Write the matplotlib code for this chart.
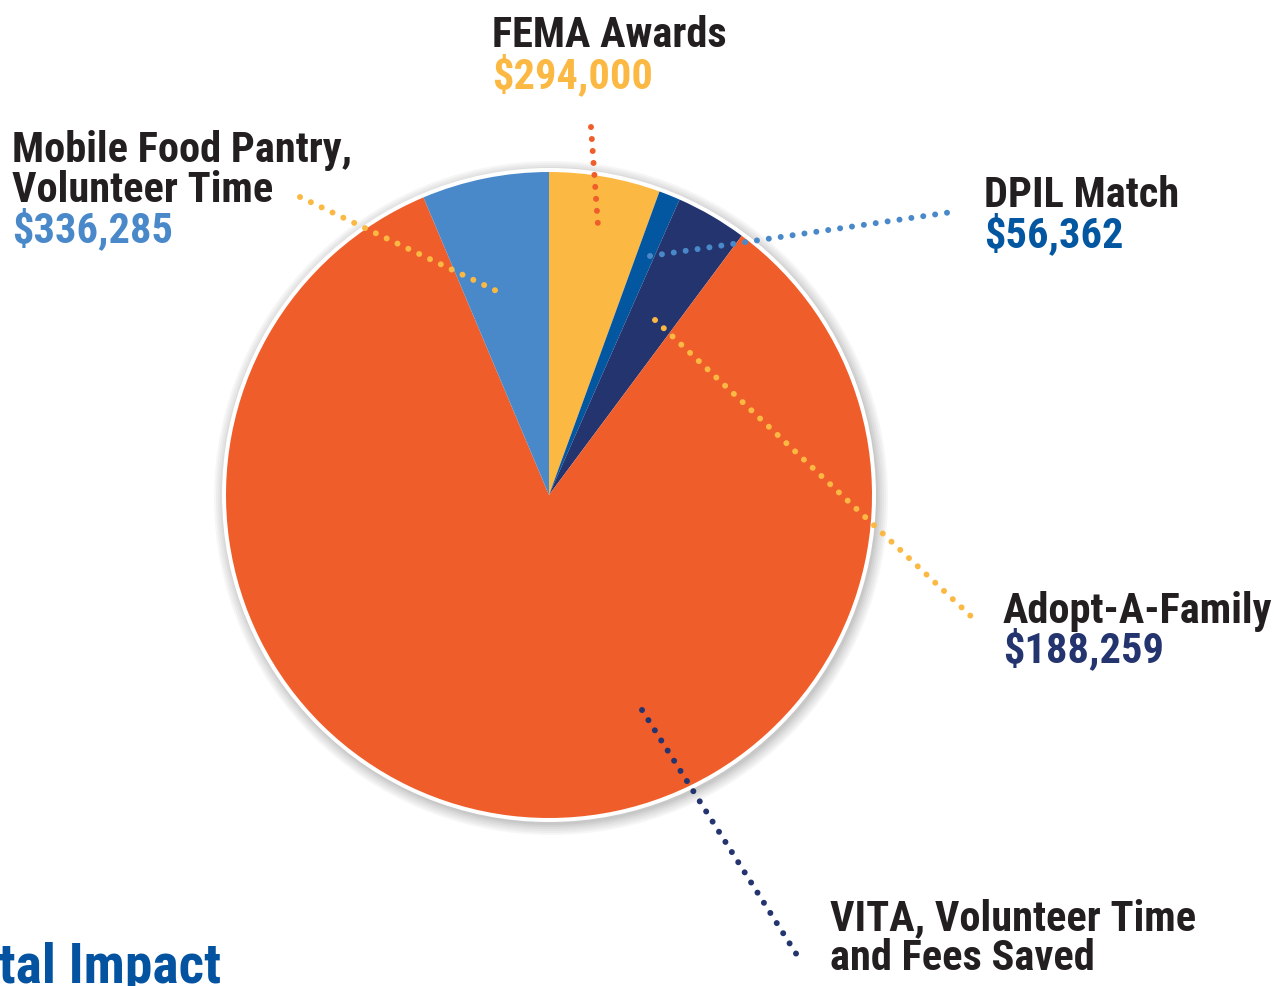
import matplotlib
matplotlib.use("Agg")
import matplotlib.pyplot as plt
from matplotlib import font_manager
from matplotlib.patches import Circle

# data
labels = ["FEMA Awards", "DPIL Match", "Adopt-A-Family",
          "VITA, Volunteer Time\nand Fees Saved", "Mobile Food Pantry,\nVolunteer Time"]
values = [294000, 56362, 188259, 4417000, 336285]  # VITA value
value_text = ["$294,000", "$56,362", "$188,259", None, "$336,285"]
colors = ["#FBB943", "#0356A0", "#23346E", "#EF5D2B", "#4A89C9"]

DARK = "#231F20"
W, H = 1276, 986

# pick a condensed bold font if one is installed
installed = {f.name for f in font_manager.fontManager.ttflist}
font = "Roboto"
for cand in ["Roboto Condensed", "Liberation Sans Narrow", "Roboto"]:
    if cand in installed:
        font = cand
        break

fig = plt.figure(figsize=(W / 100, H / 100), dpi=100)
ax = fig.add_axes([0, 0, 1, 1])


def Y(y):
    return H - y


cx, cy, r = 549, Y(495), 323

# soft shadow + white rim
for i, a in enumerate([0.05, 0.05, 0.05, 0.06, 0.07, 0.08]):
    ax.add_patch(Circle((cx + 2, cy - 3), r + 14 - 2 * i, color="#555555", alpha=a, lw=0, zorder=1))
ax.add_patch(Circle((cx, cy), r + 4, color="white", lw=0, zorder=2))

wedges, _ = ax.pie(values, colors=colors, startangle=90, counterclock=False,
                   center=(cx, cy), radius=r, frame=True,
                   wedgeprops=dict(linewidth=0))
for w in wedges:
    w.set_zorder(3)
ax.set_xlim(0, W)
ax.set_ylim(0, H)
ax.set_aspect("equal")
ax.axis("off")

# dotted leader lines (pixel coordinates of the reference)
leaders = [
    ((591, 127), (598, 226), "#EF5D2B"),
    ((650, 256), (952, 212), "#4A89C9"),
    ((300, 197), (505, 295), "#FBB943"),
    ((655, 320), (975, 620), "#FBB943"),
    ((642, 710), (802, 963), "#23346E"),
]
for (x0, y0), (x1, y1), c in leaders:
    ax.plot([x0, x1], [Y(y0), Y(y1)], color=c, lw=4.3,
            linestyle=(0, (0.01, 2.0)), dash_capstyle="round", zorder=5)

fs = 30.5
tkw = dict(fontfamily=font, fontweight="bold", fontsize=fs, va="baseline", ha="left", zorder=6)

ax.text(492, Y(47), "FEMA Awards", color=DARK, **tkw)
ax.text(492, Y(88), value_text[0], color=colors[0], **tkw)

ax.text(12, Y(162), "Mobile Food Pantry,", color=DARK, **tkw)
ax.text(12, Y(202), "Volunteer Time", color=DARK, **tkw)
ax.text(12, Y(242), value_text[4], color=colors[4], **tkw)

ax.text(984, Y(207), "DPIL Match", color=DARK, **tkw)
ax.text(984, Y(247), value_text[1], color=colors[1], **tkw)

ax.text(1003, Y(623), "Adopt-A-Family", color=DARK, **tkw)
ax.text(1003, Y(662), value_text[2], color=colors[2], **tkw)

ax.text(830, Y(930), "VITA, Volunteer Time", color=DARK, **tkw)
ax.text(830, Y(970), "and Fees Saved", color=DARK, **tkw)

ax.text(221, Y(983), "Total Impact", color="#0353A0", fontfamily=font,
        fontweight="bold", fontsize=40, va="baseline", ha="right", zorder=6)

fig.savefig("out.png", dpi=100, facecolor="white")
